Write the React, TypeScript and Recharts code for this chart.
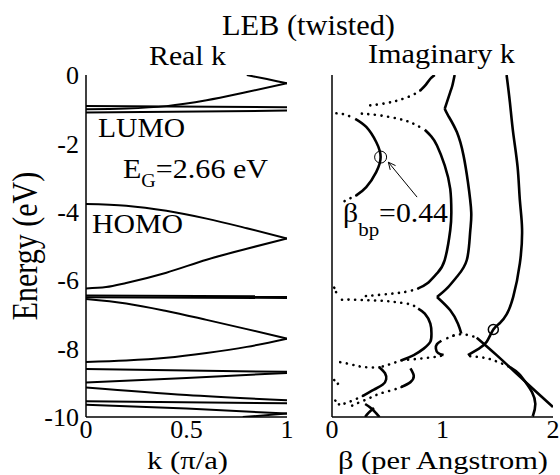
import React from 'react';
import { LineChart, Line, XAxis, YAxis, ReferenceDot, ReferenceLine } from 'recharts';

type Pair = [number, number];

const FONT = 'Liberation Serif, DejaVu Serif, Times, serif';

// axis ticks
const kTicks = [0, 0.5, 1];
const betaTicks = [0, 1, 2];
const energyTicks = [0, -2, -4, -6, -8, -10];
const energyMinorTicks = [-1, -3, -5, -7, -9];

// real-k bands: [k (pi/a), E (eV)]
const cbFolded: Pair[] = [[0.8, 0], [0.9, -0.12], [1, -0.24]];
const cbRising: Pair[] = [[0, -1.0], [0.2, -0.98], [0.4, -0.91], [0.6, -0.74], [0.8, -0.5], [1, -0.24]];
const cbFlatA: Pair[] = [[0, -0.91], [1, -0.94]];
const lumo: Pair[] = [[0, -1.1], [1, -1.04]];
const homo: Pair[] = [[0, -3.77], [0.2, -3.82], [0.4, -3.97], [0.6, -4.2], [0.8, -4.48], [1, -4.78]];
const vb2: Pair[] = [[0, -6.24], [0.1, -6.2], [0.2, -6.08], [0.4, -5.78], [0.6, -5.4], [0.8, -5.08], [1, -4.78]];
const vbFlatA: Pair[] = [[0, -6.45], [1, -6.47]];
const vbFlatB: Pair[] = [[0, -6.5], [1, -6.52]];
const vb3: Pair[] = [[0, -6.55], [0.2, -6.68], [0.4, -6.9], [0.6, -7.16], [0.8, -7.43], [1, -7.71]];
const vb4: Pair[] = [[0, -8.39], [0.2, -8.35], [0.4, -8.27], [0.6, -8.13], [0.8, -7.95], [1, -7.71]];
const vbFlatC: Pair[] = [[0, -8.6], [1, -8.68]];
const vb5: Pair[] = [[0, -8.99], [0.5, -8.86], [1, -8.71]];
const vb6: Pair[] = [[0, -9.14], [0.5, -9.36], [1, -9.51]];
const vbFlatD: Pair[] = [[0, -9.54], [1, -9.6]];
const vb7: Pair[] = [[0, -9.64], [0.5, -9.75], [1, -9.9]];
const vb8: Pair[] = [[0.78, -10], [1, -9.9]];

const realBands = [cbFolded, cbRising, cbFlatA, lumo, homo, vb2, vbFlatA, vbFlatB, vb3, vb4, vbFlatC, vb5, vb6, vbFlatD, vb7, vb8];

// complex bands: [beta (1/A), E (eV)], solid branches
const arcSolid: Pair[] = [[0.21, -1.28], [0.31, -1.52], [0.4, -1.96], [0.44, -2.4], [0.4, -2.84], [0.31, -3.28], [0.22, -3.52]];
const topSolid: Pair[] = [[0.93, 0], [0.89, -0.11], [0.85, -0.28], [0.8, -0.45]];
const midSolid: Pair[] = [[0.84, -1.6], [0.9, -1.8], [0.95, -2.06], [1.02, -2.64], [1.07, -3.33], [1.08, -4.01], [1.07, -4.54], [1.02, -5.41], [0.95, -5.8], [0.86, -6.1], [0.78, -6.24]];
const kinkTop: Pair[] = [[1.11, 0], [1.09, -0.3], [1.07, -0.5], [1.02, -0.99]];
const kinkMid: Pair[] = [[1.02, -0.99], [1.05, -1.18], [1.13, -1.67], [1.19, -2.35], [1.23, -3.13], [1.26, -4.01], [1.25, -4.6], [1.22, -5.41], [1.13, -5.9], [1.04, -6.24], [0.95, -6.49]];
const cuspLow: Pair[] = [[0.95, -6.49], [1.07, -6.88], [1.14, -7.27], [1.17, -7.56]];
const outerSolid: Pair[] = [[1.58, 0], [1.61, -0.8], [1.64, -1.7], [1.68, -2.7], [1.7, -3.66], [1.72, -4.5], [1.7, -5.51], [1.64, -6.49], [1.58, -7.0], [1.52, -7.25], [1.46, -7.44], [1.4, -7.8], [1.33, -8.0], [1.23, -8.19]];
const lowArcSolid: Pair[] = [[1.61, -8.54], [1.69, -8.73], [1.76, -9.02], [1.81, -9.27], [1.84, -9.61], [1.82, -9.95], [1.81, -10]];
const bulgeSolid: Pair[] = [[0.78, -6.83], [0.84, -6.98], [0.89, -7.27], [0.9, -7.56], [0.89, -7.8], [0.83, -8.0], [0.74, -8.19], [0.63, -8.34]];
const hookSolid: Pair[] = [[0.99, -7.77], [0.95, -7.87], [0.94, -8.0], [0.96, -8.13], [1.01, -8.19]];
const diagSolid: Pair[] = [[1.31, -7.68], [1.49, -8.19], [1.67, -8.73], [1.85, -9.27], [2.0, -9.71]];
const s1Solid: Pair[] = [[0.43, -8.55], [0.48, -8.72], [0.49, -8.9], [0.46, -9.05], [0.38, -9.2], [0.28, -9.38]];
const s2Solid: Pair[] = [[0.71, -8.58], [0.74, -8.8], [0.71, -8.98], [0.63, -9.12]];
const crossA: Pair[] = [[0.3, -9.62], [0.36, -9.76], [0.43, -10]];
const crossB: Pair[] = [[0.38, -9.74], [0.33, -9.88], [0.3, -10]];

// dotted branches
const arcDotTop: Pair[] = [[0.04, -1.12], [0.12, -1.16], [0.21, -1.28]];
const arcDotBottom: Pair[] = [[0.22, -3.52], [0.15, -3.63], [0.06, -3.77]];
const topDot: Pair[] = [[0.8, -0.45], [0.72, -0.6], [0.62, -0.72], [0.54, -0.79], [0.44, -0.85], [0.34, -0.89]];
const midDotTop: Pair[] = [[0.27, -1.13], [0.43, -1.18], [0.6, -1.28], [0.72, -1.4], [0.84, -1.6]];
const midDotBottom: Pair[] = [[0.78, -6.24], [0.71, -6.31], [0.63, -6.36], [0.55, -6.39], [0.39, -6.44], [0.28, -6.47]];
const outerDot: Pair[] = [[1.25, -8.22], [1.38, -8.27], [1.46, -8.34], [1.54, -8.44], [1.61, -8.54]];
const bulgeDotTop: Pair[] = [[0.09, -6.57], [0.2, -6.57], [0.35, -6.59], [0.49, -6.61], [0.6, -6.65], [0.71, -6.71], [0.78, -6.83]];
const bulgeDotBottom: Pair[] = [[0.63, -8.34], [0.53, -8.45], [0.43, -8.55]];
const leftRowDot: Pair[] = [[0.43, -8.55], [0.34, -8.55], [0.25, -8.52], [0.17, -8.46], [0.08, -8.4], [0.03, -8.38]];
const risingDot: Pair[] = [[0.63, -8.34], [0.74, -8.31], [0.86, -8.27], [0.96, -8.23], [1.01, -8.19]];
const hookDot: Pair[] = [[1.1, -7.62], [1.04, -7.7], [0.99, -7.77]];
const peakDot: Pair[] = [[1.1, -7.62], [1.17, -7.58], [1.25, -7.62], [1.31, -7.68]];
const s1Dot: Pair[] = [[0.28, -9.38], [0.2, -9.5], [0.12, -9.6], [0.06, -9.66]];
const s2Dot: Pair[] = [[0.63, -9.12], [0.54, -9.22], [0.43, -9.32], [0.33, -9.46], [0.22, -9.61], [0.15, -9.72]];
const curlA: Pair[] = [[0.02, -6.22], [0.05, -6.3], [0.02, -6.38]];
const curlB: Pair[] = [[0.02, -8.92], [0.06, -9.0], [0.02, -9.08]];
const curlC: Pair[] = [[0.03, -9.52], [0.07, -9.6], [0.03, -9.68]];

const solidBranches = [arcSolid, topSolid, midSolid, kinkTop, kinkMid, cuspLow, outerSolid, lowArcSolid, bulgeSolid, hookSolid, diagSolid, s1Solid, s2Solid, crossA, crossB];
const dottedBranches = [arcDotTop, arcDotBottom, topDot, midDotTop, midDotBottom, outerDot, bulgeDotTop, bulgeDotBottom, leftRowDot, risingDot, hookDot, peakDot, s1Dot, s2Dot, curlA, curlB, curlC];

// branch points marked with circles
const branchPoint = { b: 0.44, e: -2.4 };
const branchPoint2 = { b: 1.46, e: -7.44 };

const frame = { stroke: '#000', strokeWidth: 1.5 };
const tickMark = { stroke: '#666', strokeWidth: 1.5 };
const tickFont = { fill: '#000', fontSize: 26, style: { fontFamily: FONT } };

const toReal = (pts: Pair[]) => pts.map(([k, e]) => ({ k, e }));
const toComplex = (pts: Pair[]) => pts.map(([b, e]) => ({ b, e }));

// inward tick marks on all four sides plus the top/right frame lines
const edgeAxes = (xDomain: [number, number], xInner: number[]) => [
  <XAxis key="xt" xAxisId="top" orientation="top" mirror height={0} type="number" domain={xDomain} ticks={xInner}
    allowDataOverflow tick={false} tickSize={8} tickLine={tickMark} axisLine={frame} />,
  <XAxis key="xb" xAxisId="bottom" orientation="bottom" mirror height={0} type="number" domain={xDomain} ticks={xInner}
    allowDataOverflow tick={false} tickSize={8} tickLine={tickMark} axisLine={false} />,
  <YAxis key="yl" yAxisId="leftMajor" orientation="left" mirror width={0} type="number" domain={[-10, 0]} ticks={energyTicks}
    allowDataOverflow tick={false} tickSize={10} tickLine={tickMark} axisLine={false} />,
  <YAxis key="ylm" yAxisId="leftMinor" orientation="left" mirror width={0} type="number" domain={[-10, 0]} ticks={energyMinorTicks}
    allowDataOverflow tick={false} tickSize={5} tickLine={tickMark} axisLine={false} />,
  <YAxis key="yr" yAxisId="rightMajor" orientation="right" mirror width={0} type="number" domain={[-10, 0]} ticks={energyTicks}
    allowDataOverflow tick={false} tickSize={10} tickLine={tickMark} axisLine={frame} />,
  <YAxis key="yrm" yAxisId="rightMinor" orientation="right" mirror width={0} type="number" domain={[-10, 0]} ticks={energyMinorTicks}
    allowDataOverflow tick={false} tickSize={5} tickLine={tickMark} axisLine={false} />,
];

const RealKPanel = () => (
  <LineChart width={300} height={475} margin={{ top: 75, right: 13, bottom: 0, left: 0 }} style={{ fontFamily: FONT }}>
    <XAxis xAxisId="k" dataKey="k" type="number" domain={[0, 1]} ticks={kTicks} interval={0} allowDataOverflow height={58}
      tickLine={false} tickSize={0} tickMargin={3} tick={tickFont} axisLine={frame} />
    <YAxis yAxisId="e" type="number" domain={[-10, 0]} ticks={energyTicks} interval={0} allowDataOverflow width={86}
      tickLine={false} tickSize={0} tickMargin={7} tick={tickFont} axisLine={frame} />
    {edgeAxes([0, 1], [0.5])}
    {realBands.map((band, i) => (
      <Line key={i} xAxisId="k" yAxisId="e" data={toReal(band)} dataKey="e" type="monotone"
        stroke="#000" strokeWidth={2} dot={false} activeDot={false} isAnimationActive={false} />
    ))}
  </LineChart>
);

const ImagKPanel = () => (
  <LineChart width={260} height={475} margin={{ top: 75, right: 7, bottom: 0, left: 0 }} style={{ fontFamily: FONT }}>
    <XAxis xAxisId="b" dataKey="b" type="number" domain={[0, 2]} ticks={betaTicks} interval={0} allowDataOverflow height={58}
      tickLine={false} tickSize={0} tickMargin={3} tick={tickFont} axisLine={frame} />
    <YAxis yAxisId="e" type="number" domain={[-10, 0]} ticks={energyTicks} allowDataOverflow width={32}
      tickLine={false} tick={false} axisLine={frame} />
    {edgeAxes([0, 2], [1])}
    {solidBranches.map((br, i) => (
      <Line key={`s${i}`} xAxisId="b" yAxisId="e" data={toComplex(br)} dataKey="e" type="natural"
        stroke="#000" strokeWidth={2.6} dot={false} activeDot={false} isAnimationActive={false} />
    ))}
    {dottedBranches.map((br, i) => (
      <Line key={`d${i}`} xAxisId="b" yAxisId="e" data={toComplex(br)} dataKey="e" type="natural"
        stroke="#000" strokeWidth={2.6} strokeDasharray="0.1 6.5" strokeLinecap="round"
        dot={false} activeDot={false} isAnimationActive={false} />
    ))}
    <ReferenceDot xAxisId="b" yAxisId="e" x={branchPoint.b} y={branchPoint.e} r={6} fill="none" stroke="#000" strokeWidth={1} />
    <ReferenceDot xAxisId="b" yAxisId="e" x={branchPoint2.b} y={branchPoint2.e} r={5} fill="none" stroke="#000" strokeWidth={1.5} />
    {/* arrow pointing at the branch point */}
    <ReferenceLine xAxisId="b" yAxisId="e" segment={[{ x: 0.51, y: -2.55 }, { x: 0.77, y: -3.57 }]} stroke="#000" strokeWidth={1} />
    <ReferenceLine xAxisId="b" yAxisId="e" segment={[{ x: 0.51, y: -2.55 }, { x: 0.527, y: -2.774 }]} stroke="#000" strokeWidth={1} />
    <ReferenceLine xAxisId="b" yAxisId="e" segment={[{ x: 0.51, y: -2.55 }, { x: 0.575, y: -2.649 }]} stroke="#000" strokeWidth={1} />
  </LineChart>
);

const Labels = () => (
  <svg width={560} height={475} style={{ position: 'absolute', left: 0, top: 0, pointerEvents: 'none', fontFamily: FONT }}
    fill="#000">
    <text x={222} y={35} fontSize={30} textLength={173} lengthAdjust="spacingAndGlyphs">LEB (twisted)</text>
    <text x={149} y={65} fontSize={27} textLength={77} lengthAdjust="spacingAndGlyphs">Real k</text>
    <text x={368} y={63} fontSize={27} textLength={147} lengthAdjust="spacingAndGlyphs">Imaginary k</text>
    <text x={98} y={137} fontSize={27} textLength={87} lengthAdjust="spacingAndGlyphs">LUMO</text>
    <text x={123} y={178} fontSize={27} textLength={145} lengthAdjust="spacingAndGlyphs">
      E<tspan fontSize={18} dy={9}>G</tspan><tspan dy={-9}>=2.66 eV</tspan>
    </text>
    <text x={92} y={233} fontSize={27} textLength={91} lengthAdjust="spacingAndGlyphs">HOMO</text>
    <text x={343} y={222} fontSize={27} textLength={105} lengthAdjust="spacingAndGlyphs">
      β<tspan fontSize={19} dy={14}>bp</tspan><tspan dy={-14}>=0.44</tspan>
    </text>
    <text x={147} y={469} fontSize={26} textLength={81} lengthAdjust="spacingAndGlyphs">k (π/a)</text>
    <text x={338} y={469} fontSize={26} textLength={210} lengthAdjust="spacingAndGlyphs">β (per Angstrom)</text>
    <text transform="translate(37,246) scale(1.2,1) rotate(-90)" textAnchor="middle" fontSize={30}>Energy (eV)</text>
  </svg>
);

export default function App() {
  return (
    <div style={{ position: 'absolute', left: 0, top: 0, width: 560, height: 475, background: '#fff', overflow: 'hidden', fontFamily: FONT }}>
      <div style={{ position: 'absolute', left: 0, top: 0 }}>
        <RealKPanel />
      </div>
      <div style={{ position: 'absolute', left: 300, top: 0 }}>
        <ImagKPanel />
      </div>
      <Labels />
    </div>
  );
}
